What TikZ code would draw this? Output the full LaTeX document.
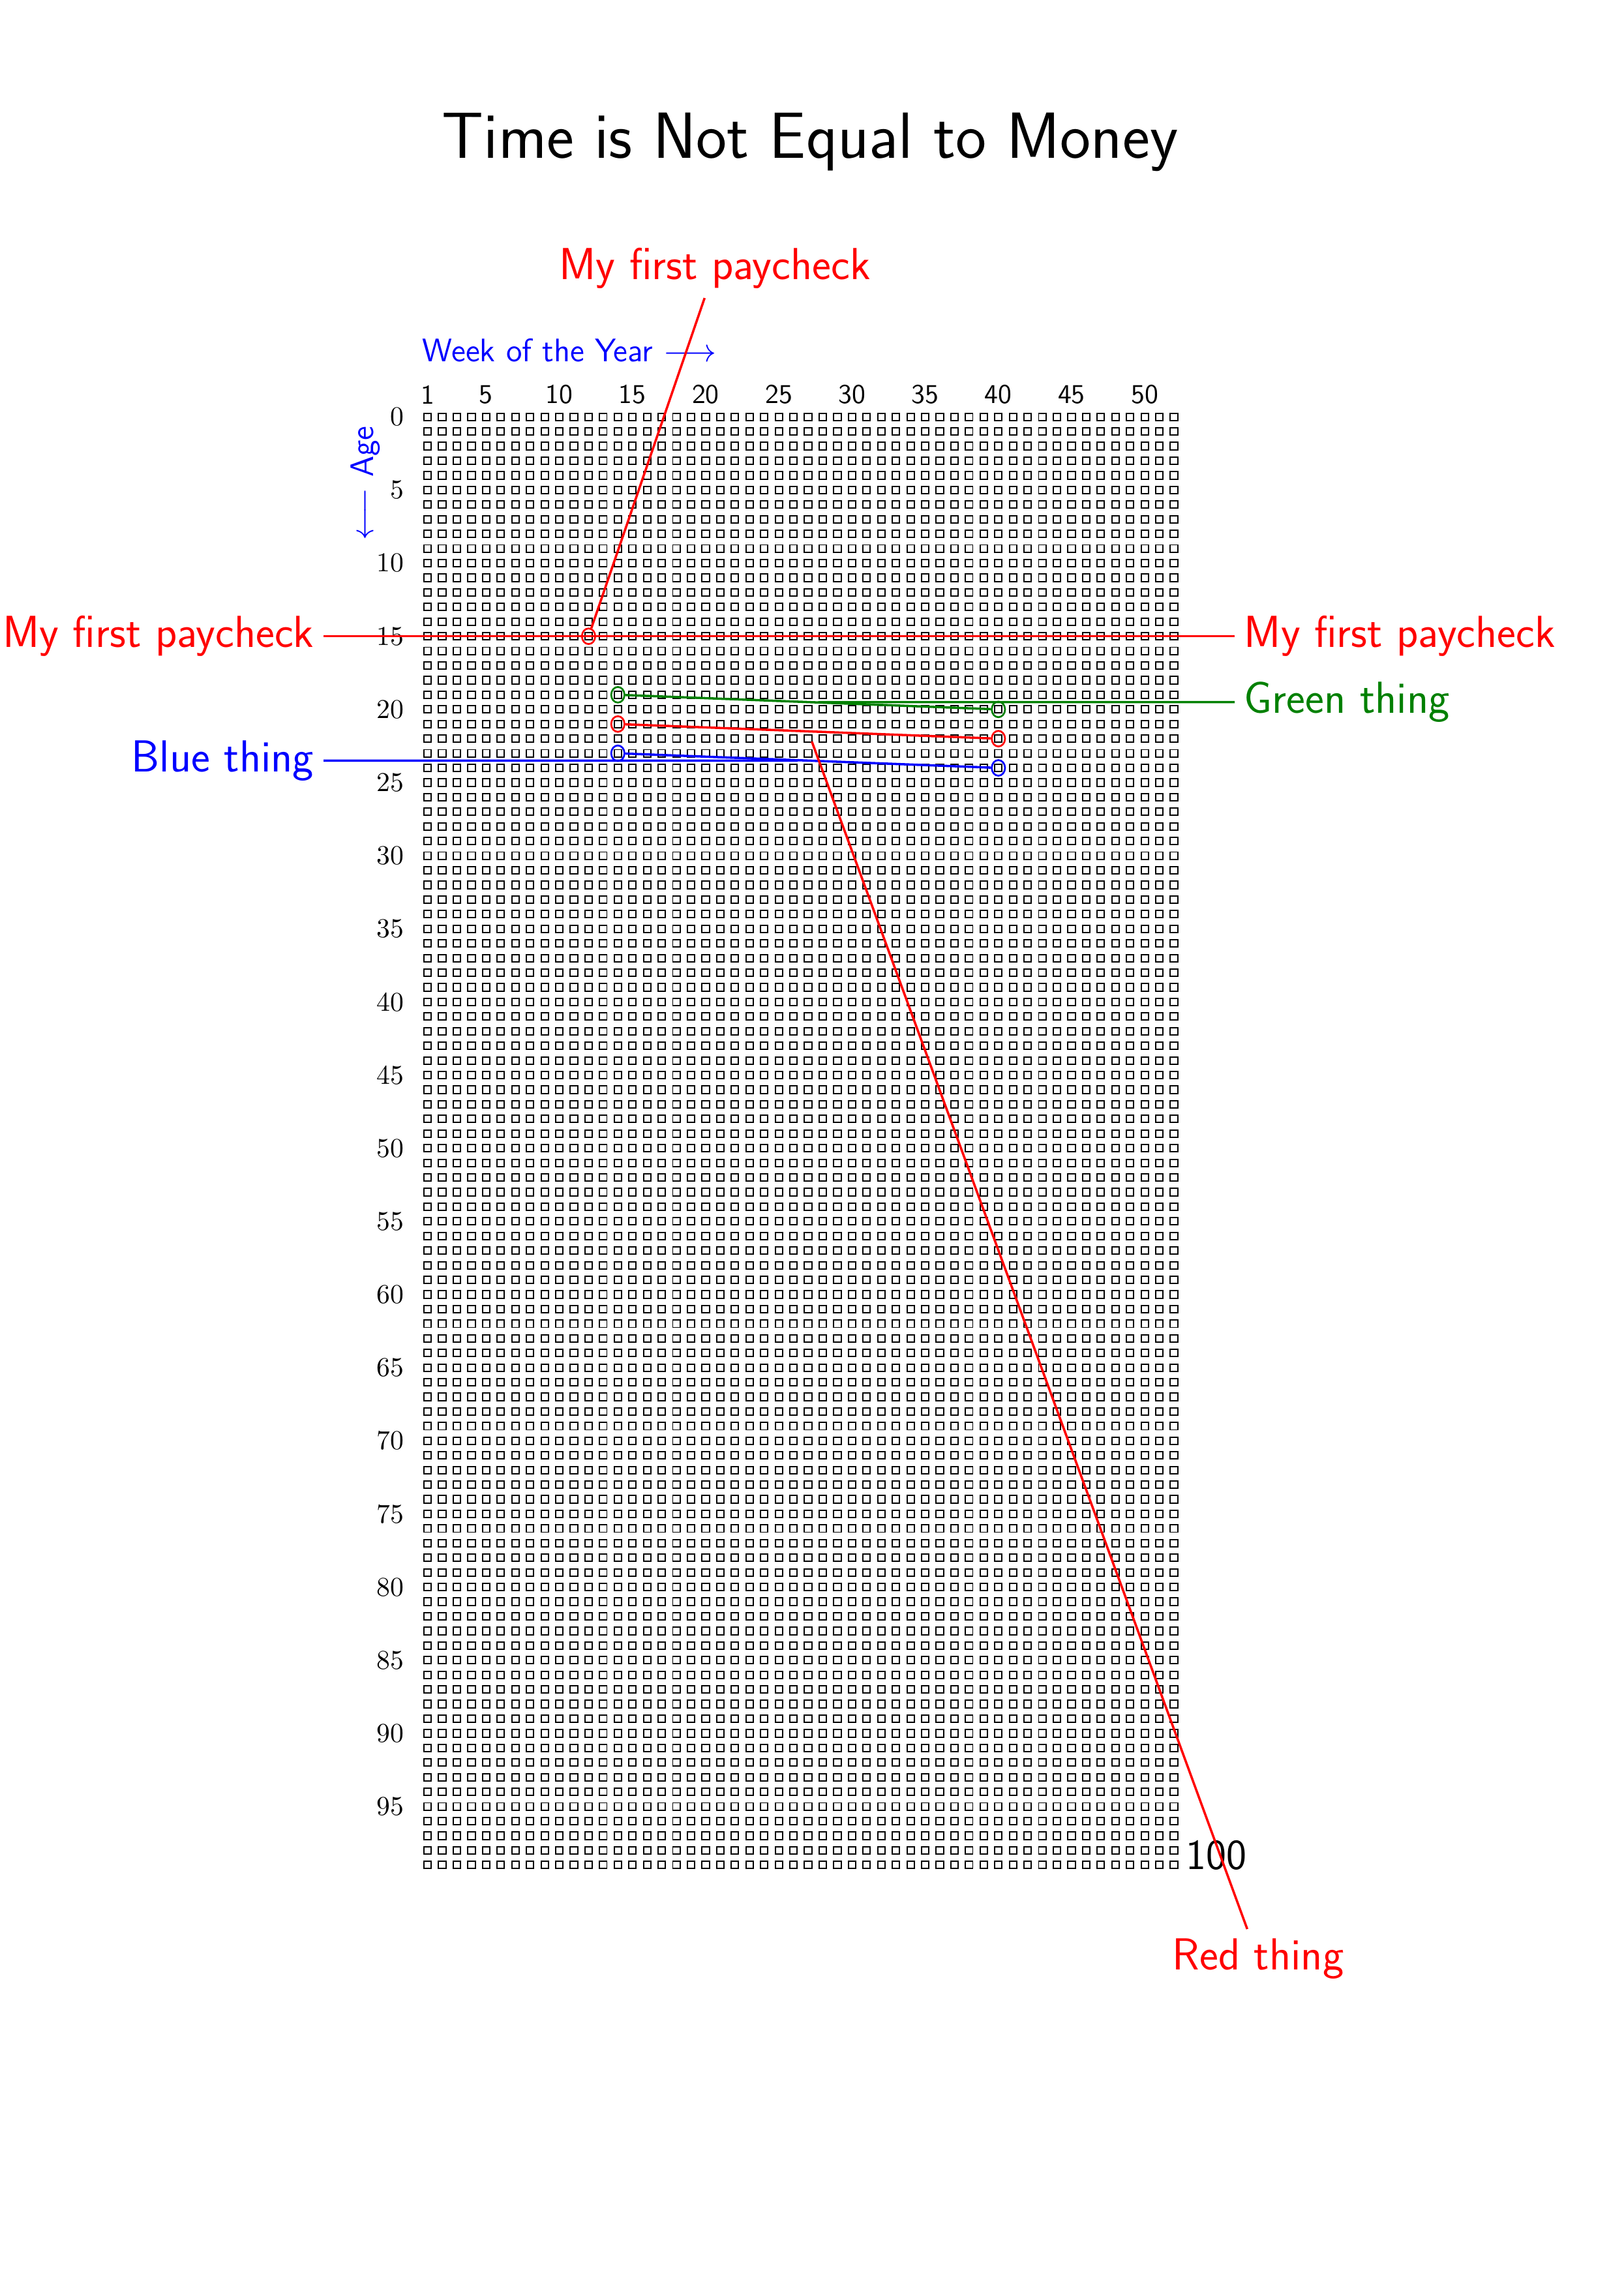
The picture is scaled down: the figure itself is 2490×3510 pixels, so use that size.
\documentclass[tikz,border=0pt]{standalone}
\usetikzlibrary{shapes.geometric}
\begin{document}
\begin{tikzpicture}[x={(0.0843373mm,0)}, y={(0,-0.0843373mm)},
  lbl/.style={font=\sffamily\fontsize{16.5}{20}\selectfont, inner sep=3.33pt},
  conn/.style={line width=0.85pt},
  ringnode/.style={ellipse, draw, line width=0.65pt, minimum width=1.72mm, minimum height=2.02mm, inner sep=0pt},
  midnode/.style={inner sep=3.33pt, draw=none}]
\useasboundingbox (0,0) rectangle (2490,3510);
\colorlet{dgreen}{green!50!black}
% title
\node[font=\sffamily\fontsize{24}{29}\selectfont] (title) at (1242,218) {Time is Not Equal to Money};
% grid of weeks
\draw[line width=0.47pt] \foreach \c in {0,...,51} { \foreach \r in {0,...,99} {
  ({655.6+\c*22.44-5.6},{639.2+\r*22.43-5.6}) rectangle ++(11.2,11.2) } };
% column labels
\foreach \c in {1,5,10,...,50}
  \node[font=\sffamily] (col\c) at ({655.6+(\c-1)*22.44},605) {\c};
% row labels
\foreach \r in {0,5,...,95}
  \node[anchor=east, inner sep=0pt] (row\r) at (620,{639.2+\r*22.43}) {\r};
% axis titles
\node[font=\sffamily\large, text=blue, anchor=west, inner sep=0pt] (week) at (647,537) {Week of the Year $\longrightarrow$};
\node[font=\sffamily\large, text=blue, rotate=90] (age) at (560,741) {$\longleftarrow$ Age};
\node[font=\sffamily\fontsize{15.8}{19}\selectfont, anchor=west, inner sep=0pt] (hundred) at (1818,2845) {100};
% marked weeks
\node[ringnode, red] (p1) at (902.44,975.65) {};
\node[ringnode, dgreen] (g1) at (947.32,1065.37) {};
\node[ringnode, dgreen] (g2) at (1530.76,1087.8) {};
\node[ringnode, red] (r1) at (947.32,1110.23) {};
\node[ringnode, red] (r2) at (1530.76,1132.66) {};
\node[ringnode, blue] (b1) at (947.32,1155.09) {};
\node[ringnode, blue] (b2) at (1530.76,1177.52) {};
\draw[conn, dgreen] (g1) -- (g2) node[midway, midnode] (gm) {};
\draw[conn, red] (r1) -- (r2) node[midway, midnode] (rm) {};
\draw[conn, blue] (b1) -- (b2) node[midway, midnode] (bm) {};
% labels
\node[lbl, text=red, anchor=south] (ptop) at (1096,457) {My first paycheck};
\node[lbl, text=red, anchor=east] (pleft) at (496,975.65) {My first paycheck};
\node[lbl, text=red, anchor=west] (pright) at (1893,975.65) {My first paycheck};
\node[lbl, text=dgreen, anchor=west] (glab) at (1893,1076.6) {Green thing};
\node[lbl, text=blue, anchor=east] (blab) at (496,1166.3) {Blue thing};
\node[lbl, text=red, anchor=north] (rlab) at (1929,2958) {Red thing};
% connectors
\draw[conn, red] (pleft) -- (pright);
\draw[conn, red] (ptop) -- (p1);
\draw[conn, dgreen] (glab) -- (gm);
\draw[conn, red] (rlab) -- (rm);
\draw[conn, blue] (blab) -- (bm);
\end{tikzpicture}
\end{document}
